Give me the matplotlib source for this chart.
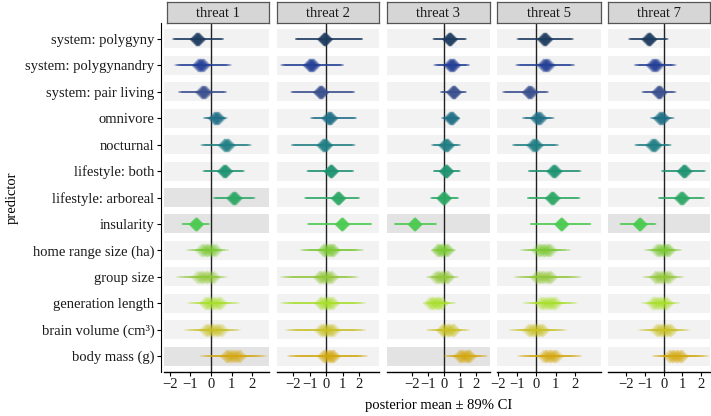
import matplotlib
matplotlib.use("Agg")
import matplotlib.pyplot as plt
import numpy as np

plt.rcParams['font.family'] = ['Liberation Serif', 'DejaVu Serif']
plt.rcParams['font.size'] = 10.5

W, H = 711, 416

predictors = ["system: polygyny", "system: polygynandry", "system: pair living",
              "omnivore", "nocturnal", "lifestyle: both", "lifestyle: arboreal",
              "insularity", "home range size (ha)", "group size",
              "generation length", "brain volume (cm³)", "body mass (g)"]
colors = ["#1c3a5e", "#233f96", "#3a4f8e", "#1f6f87", "#1f7f84", "#1e9372",
          "#2ca865", "#4ccb50", "#7cc934", "#93c83a", "#a9e02b", "#c9c226", "#d3a80f"]
# spread of the point estimate across imputed datasets (blur)
blur = [0.08, 0.15, 0.1, 0.12, 0.12, 0.08, 0.08, 0.05, 0.35, 0.4, 0.4, 0.4, 0.35]

threats = ["threat 1", "threat 2", "threat 3", "threat 5", "threat 7"]

t1_mean = [-0.66, -0.5, -0.37, 0.24, 0.73, 0.65, 1.11, -0.73, -0.13, -0.27, 0.08, 0.11, 1.05]
t1_lo = [-1.82, -1.63, -1.5, -0.29, -0.4, -0.34, 0.15, -1.39, -0.85, -1.3, -0.77, -0.9, -0.2]
t1_hi = [0.56, 0.84, 0.68, 0.69, 1.85, 1.56, 2.08, -0.1, 0.52, 0.4, 1.0, 1.05, 2.34]

t2_mean = [-0.1, -0.91, -0.34, 0.18, -0.12, 0.28, 0.71, 0.95, 0.14, -0.06, 0.0, 0.04, 0.14]
t2_lo = [-1.85, -2.64, -2.09, -0.87, -2.05, -1.14, -1.28, -1.12, -1.28, -2.4, -2.4, -2.09, -2.05]
t2_hi = [2.17, 0.95, 1.66, 1.76, 1.66, 1.62, 1.97, 2.74, 1.93, 1.56, 2.0, 2.0, 2.17]

t3_mean = [0.33, 0.46, 0.58, 0.44, 0.12, 0.12, -0.04, -1.85, -0.12, -0.15, -0.54, 0.23, 1.27]
t3_lo = [-0.67, -0.54, -0.19, -0.08, -0.71, -0.65, -0.81, -3.1, -0.5, -0.75, -0.9, -0.75, 0.29]
t3_hi = [1.33, 1.48, 1.33, 0.88, 0.92, 0.96, 0.85, -0.5, 0.4, 0.55, 0.35, 1.2, 2.38]

t5_mean = [0.43, 0.49, -0.35, 0.1, -0.09, 0.92, 0.83, 1.3, 0.4, 0.37, 0.61, -0.03, 0.71]
t5_lo = [-0.96, -0.96, -1.69, -0.64, -1.17, -0.38, -0.43, -0.3, -0.5, -0.78, -0.3, -1.03, -0.64]
t5_hi = [1.88, 1.88, 0.57, 0.83, 1.06, 2.28, 2.23, 2.83, 1.48, 1.97, 1.76, 1.18, 2.05]

t7_mean = [-0.79, -0.48, -0.25, -0.13, -0.54, 1.09, 0.96, -1.29, -0.04, -0.07, -0.21, 0.0, 0.64]
t7_lo = [-1.82, -1.46, -1.1, -0.61, -1.46, -0.07, -0.25, -2.32, -0.7, -0.75, -0.8, -0.95, -0.3]
t7_hi = [0.18, 0.54, 0.59, 0.46, 0.32, 2.2, 2.14, -0.43, 0.65, 0.7, 0.5, 1.0, 2.07]

means = [t1_mean, t2_mean, t3_mean, t5_mean, t7_mean]
lows = [t1_lo, t2_lo, t3_lo, t5_lo, t7_lo]
highs = [t1_hi, t2_hi, t3_hi, t5_hi, t7_hi]
# rows whose band is shaded darker in each panel
highlight = [[6, 7, 12], [], [7, 12], [], [7]]

x_limits = [(-2.28, 2.8), (-3.0, 3.2), (-3.58, 2.86), (-2.05, 3.37), (-2.98, 2.48)]
ticks = [-2, -1, 0, 1, 2]

fig = plt.figure(figsize=(W / 100, H / 100), dpi=100)

lefts = [164, 277, 387, 497, 608]
widths = [105, 102, 103, 104, 102]
top, bottom = 23, 372

n = len(predictors)
ypos = np.arange(n)

for p in range(5):
    ax = fig.add_axes([lefts[p] / W, 1 - bottom / H, widths[p] / W, (bottom - top) / H])
    ax.set_xlim(*x_limits[p])
    ax.set_ylim(n - 0.4, -0.6)

    # row bands
    for i in range(n):
        fc = "#e3e3e3" if i in highlight[p] else "#f2f2f2"
        ax.axhspan(i - 0.36, i + 0.36, color=fc, lw=0, zorder=0)

    ax.axvline(0, color="#222222", lw=1.0, zorder=1)

    # each estimate drawn as overlapping translucent copies -> soft blur
    for i in range(n):
        s = blur[i]
        for d in np.linspace(-s, s, 11):
            ax.plot([lows[p][i] + d, highs[p][i] + d], [i, i], color=colors[i],
                    lw=1.1, alpha=0.2, solid_capstyle="butt", zorder=2)
            ax.plot(means[p][i] + d, i, marker="D", ms=7, color=colors[i],
                    mec="none", alpha=0.23, zorder=3)

    for sp in ["top", "right", "left"]:
        ax.spines[sp].set_visible(False)
    ax.spines["bottom"].set_color("black")
    ax.spines["bottom"].set_linewidth(1.0)
    ax.set_xticks(ticks)
    ax.set_xticklabels([str(t).replace("-", "\u2212") for t in ticks])
    ax.tick_params(axis="x", length=3, width=0.8, pad=1.5, colors="black", labelcolor="#1a1a1a")

    if p == 0:
        ax.spines["left"].set_visible(True)
        ax.spines["left"].set_position(("outward", 2))
        ax.spines["left"].set_color("black")
        ax.set_yticks(ypos)
        ax.set_yticklabels(predictors)
        ax.tick_params(axis="y", length=3, width=0.8, pad=2, labelcolor="#1a1a1a")
    else:
        ax.set_yticks([])

    # facet strip
    sax = fig.add_axes([lefts[p] / W if p else 167 / W, 1 - 23 / H,
                        (widths[p] - (3 if p == 0 else 0)) / W, 21 / H])
    sax.set_facecolor("#d6d6d6")
    sax.set_xticks([])
    sax.set_yticks([])
    for sp in sax.spines.values():
        sp.set_color("#555555")
        sp.set_linewidth(0.9)
    sax.text(0.5, 0.45, threats[p], ha="center", va="center", transform=sax.transAxes,
             color="#1a1a1a")

fig.text(439 / W, 1 - 405 / H, "posterior mean ± 89% CI", ha="center", va="center")
fig.text(12 / W, 1 - 198 / H, "predictor", ha="center", va="center", rotation=90)

fig.savefig("out.png", dpi=100)
